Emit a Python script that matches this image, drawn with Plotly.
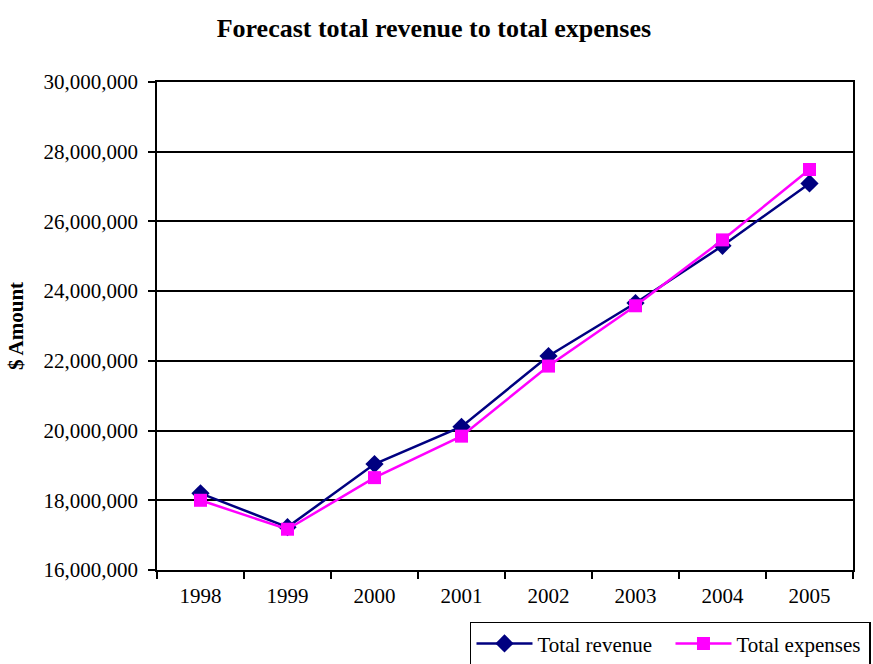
import plotly.graph_objects as go

years = ["1998", "1999", "2000", "2001", "2002", "2003", "2004", "2005"]
revenue = [18200000, 17230000, 19040000, 20110000, 22140000, 23660000, 25300000, 27090000]
expenses = [18000000, 17170000, 18650000, 19840000, 21850000, 23580000, 25470000, 27490000]
y_ticks = [16000000, 18000000, 20000000, 22000000, 24000000, 26000000, 28000000, 30000000]

font_family = "Liberation Serif, Times New Roman, serif"

fig = go.Figure()
fig.add_trace(go.Scatter(
    x=years, y=revenue, name="Total revenue", mode="lines+markers",
    line=dict(color="#000080", width=2.5),
    marker=dict(symbol="diamond", size=14, color="#000080"),
))
fig.add_trace(go.Scatter(
    x=years, y=expenses, name="Total expenses", mode="lines+markers",
    line=dict(color="#FF00FF", width=2.5),
    marker=dict(symbol="square", size=13, color="#FF00FF"),
))

fig.update_layout(
    width=873, height=664,
    margin=dict(l=157, r=20, t=82, b=94, autoexpand=False),
    paper_bgcolor="white", plot_bgcolor="white",
    font=dict(family=font_family, size=21, color="black"),
    title=dict(text="<b>Forecast total revenue to total expenses</b>",
               x=0.497, xanchor="center", y=0.958, yanchor="middle",
               font=dict(size=26, family=font_family)),
    showlegend=True,
    legend=dict(orientation="h", x=0.4497, xanchor="left", y=-0.106, yanchor="top",
                bordercolor="black", borderwidth=1.5, bgcolor="white",
                font=dict(size=21, family=font_family),
                itemwidth=56, entrywidth=128, entrywidthmode="pixels",
                tracegroupgap=0),
)
fig.update_xaxes(
    type="category", range=[-0.5, 7.5], tickson="boundaries",
    ticks="outside", ticklen=7, tickwidth=1.5, tickcolor="black",
    showline=True, linecolor="black", linewidth=1.5, mirror=True,
    showgrid=False, zeroline=False, ticklabelstandoff=6, automargin=False,
)
fig.update_yaxes(
    range=[16000000, 30000000], tickvals=y_ticks, tickformat=",d",
    ticks="outside", ticklen=7, tickwidth=1.5, tickcolor="black",
    showline=True, linecolor="black", linewidth=1.5, mirror=True,
    showgrid=True, gridcolor="black", gridwidth=1.5, zeroline=False,
    ticklabelstandoff=6, automargin=False,
    title=dict(text="<b>$ Amount</b>", standoff=14, font=dict(size=21)),
)

fig.write_html("out.html")
